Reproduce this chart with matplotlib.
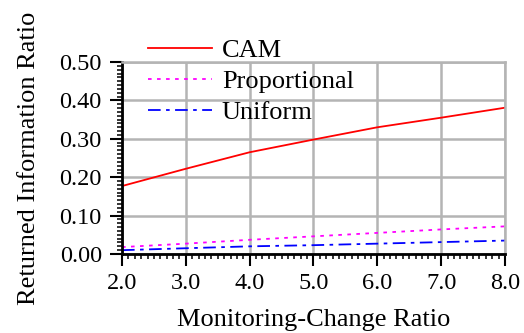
import numpy as np
import matplotlib.pyplot as plt
from matplotlib.ticker import MultipleLocator, FormatStrFormatter

plt.rcParams['font.family'] = ['Liberation Serif', 'DejaVu Serif']

# Data
ratio = [2.0, 3.0, 4.0, 5.0, 6.0, 7.0, 8.0]
cam = [0.177, 0.222, 0.265, 0.298, 0.330, 0.355, 0.381]
proportional = [0.018, 0.027, 0.037, 0.046, 0.055, 0.064, 0.072]
uniform = [0.010, 0.015, 0.020, 0.023, 0.027, 0.031, 0.035]

fig = plt.figure(figsize=(5.24, 3.33), dpi=100)
ax = fig.add_axes([0.2328, 0.2372, 0.7309, 0.5766])

ax.plot(ratio, cam, color='red', lw=1.3, label='CAM')
ax.plot(ratio, proportional, color='magenta', lw=1.3, ls=(0, (2, 3)), label='Proportional')
ax.plot(ratio, uniform, color='blue', lw=1.3, ls=(0, (7, 3, 2, 3)), label='Uniform')

ax.set_xlim(2.0, 8.0)
ax.set_ylim(0.0, 0.5)
ax.xaxis.set_major_locator(MultipleLocator(1.0))
ax.xaxis.set_minor_locator(MultipleLocator(0.1))
ax.yaxis.set_major_locator(MultipleLocator(0.1))
ax.yaxis.set_minor_locator(MultipleLocator(0.01))
ax.xaxis.set_major_formatter(FormatStrFormatter('%.1f'))
ax.yaxis.set_major_formatter(FormatStrFormatter('%.2f'))

ax.grid(True, which='major', color='#b4b4b4', lw=1.8)
ax.set_axisbelow(True)
for side in ['top', 'right']:
    ax.spines[side].set_color('#b4b4b4')
    ax.spines[side].set_linewidth(1.8)
for side in ['left', 'bottom']:
    ax.spines[side].set_color('black')
    ax.spines[side].set_linewidth(2.0)

ax.tick_params(which='major', direction='out', length=8.5, width=1.5, labelsize=17.5)
ax.tick_params(axis='y', which='major', pad=6)
ax.tick_params(axis='x', which='major', pad=5)
ax.tick_params(which='minor', direction='out', length=3.8, width=1.1)
ax.tick_params(top=False, right=False)

ax.set_xlabel('Monitoring-Change Ratio', fontsize=19)
ax.set_ylabel('Returned Information Ratio', fontsize=19)
ax.xaxis.set_label_coords(0.5, -0.285)
ax.yaxis.set_label_coords(-0.214, 0.5)

fig.legend(loc='upper left', bbox_to_anchor=(0.262, 0.915), frameon=False,
           fontsize=19, handlelength=2.45, handletextpad=0.35, labelspacing=0.28,
           borderaxespad=0)

fig.savefig('out.png', dpi=100)
